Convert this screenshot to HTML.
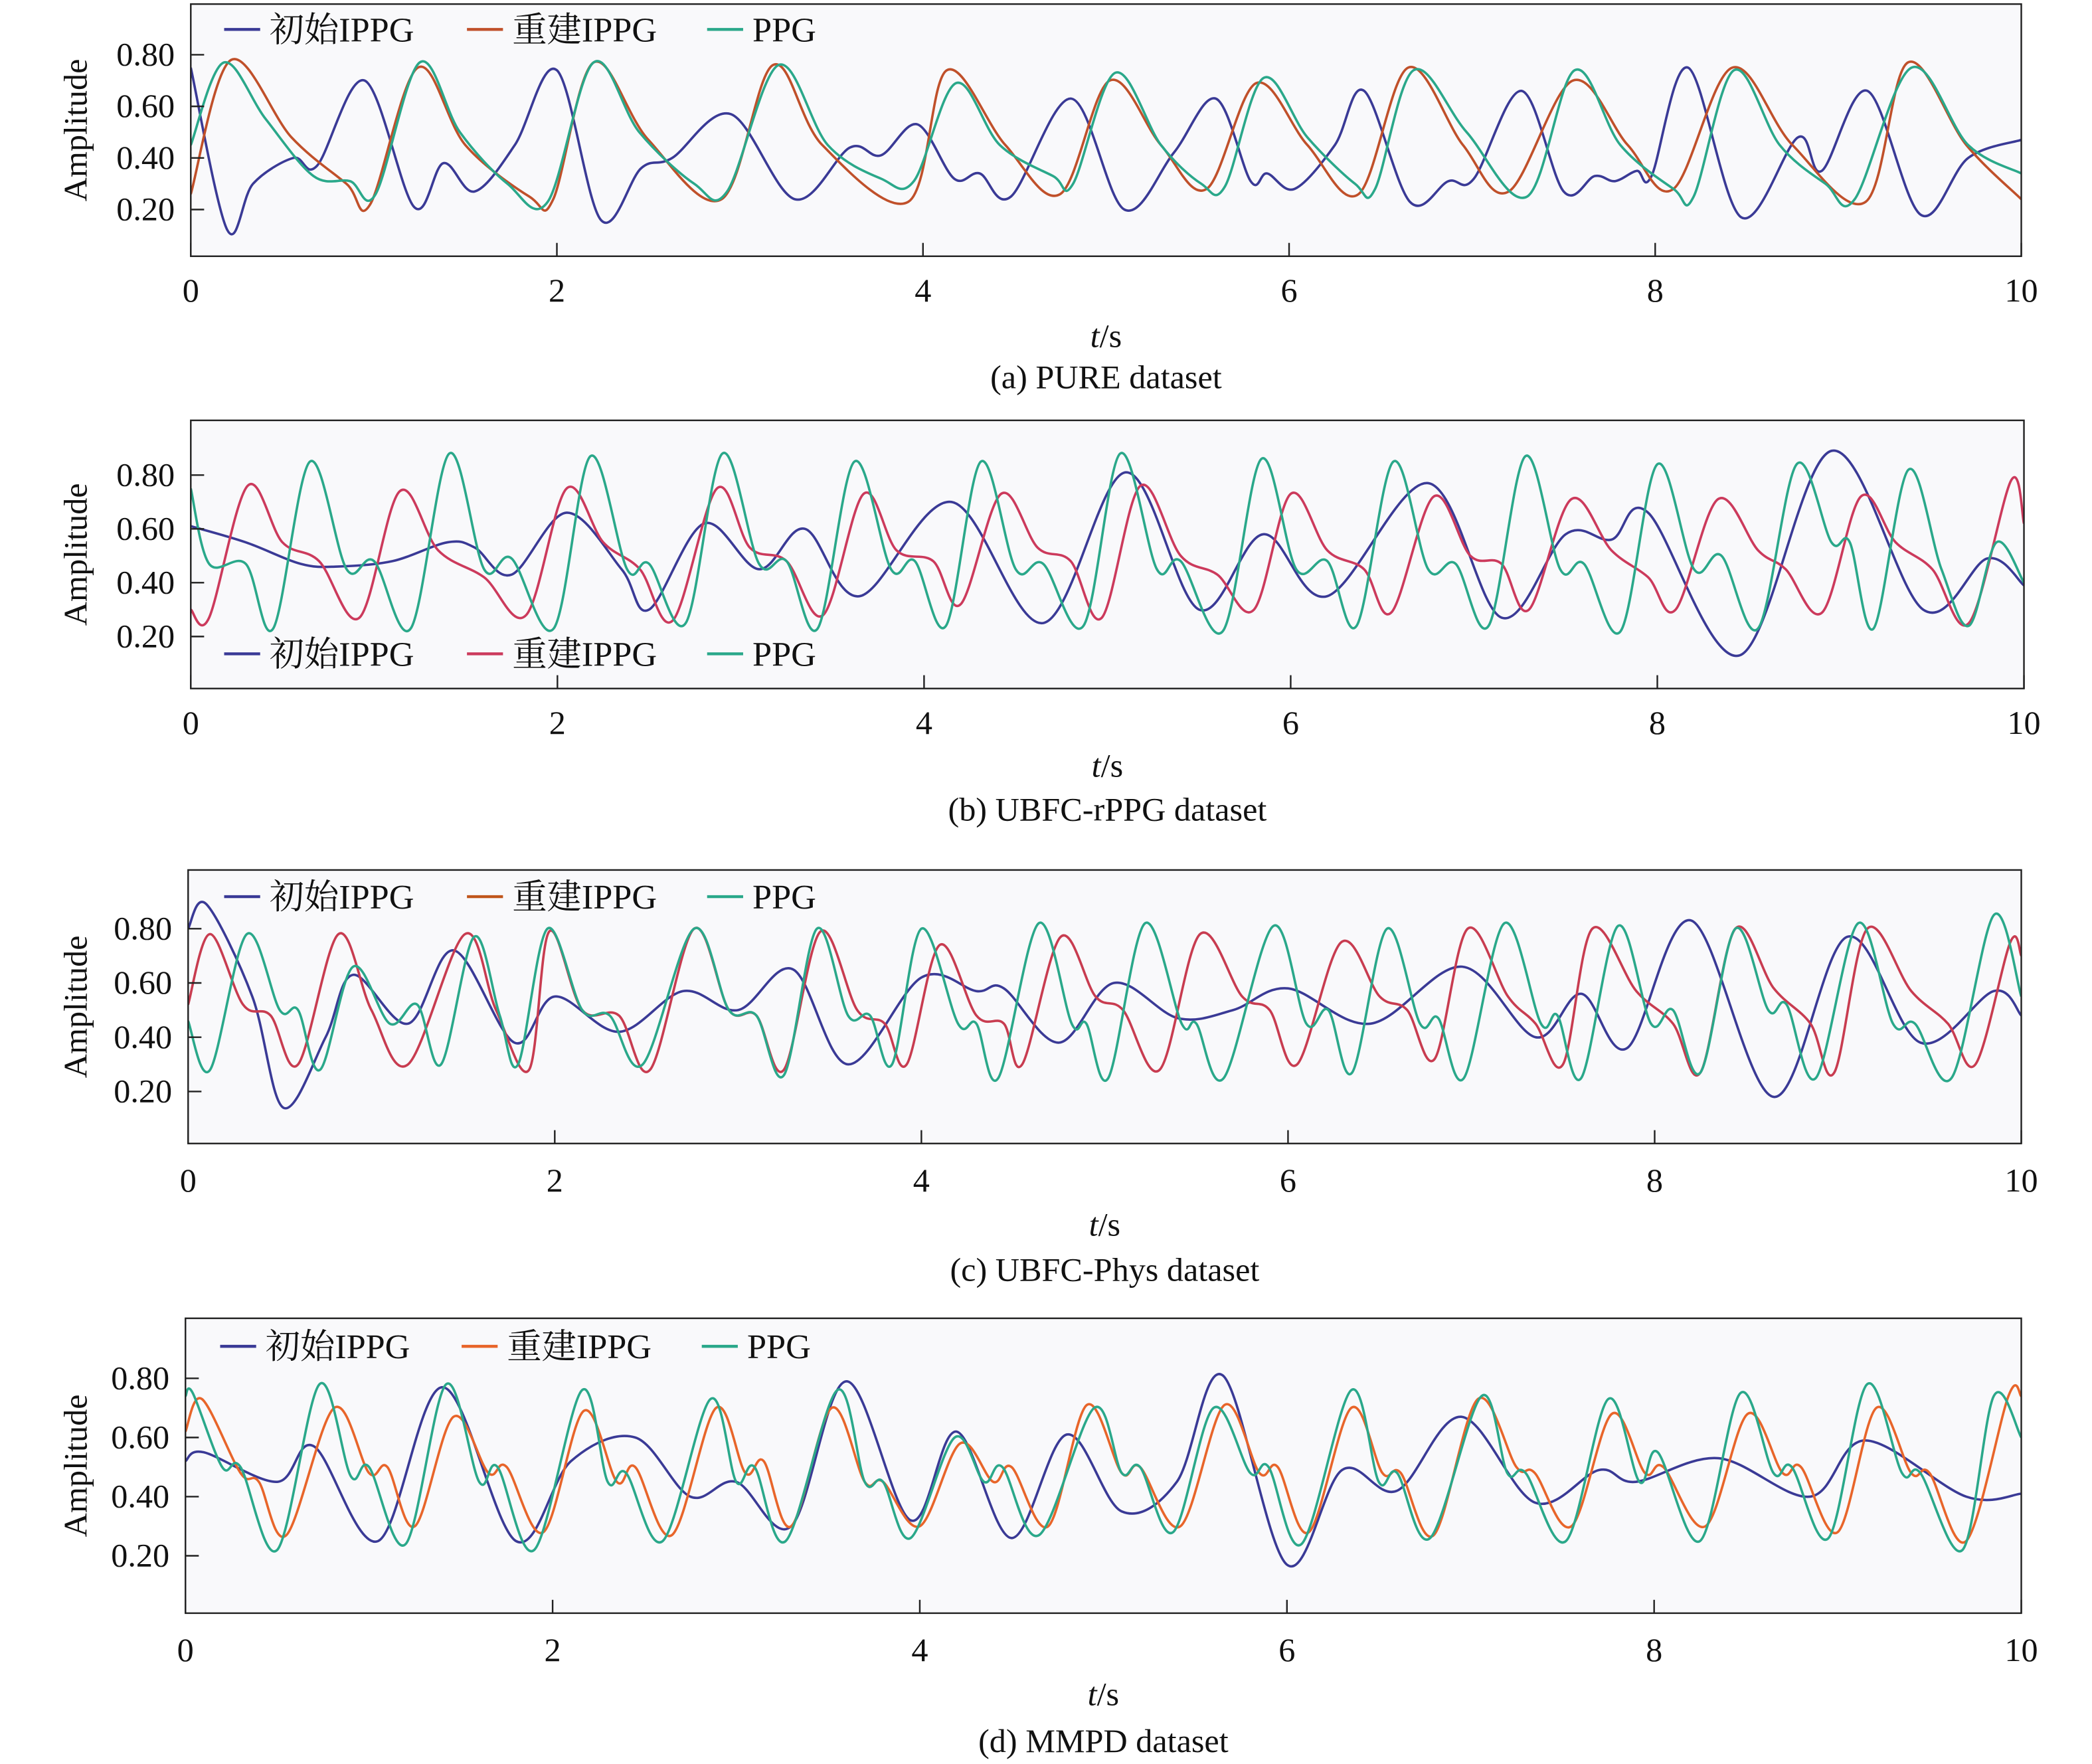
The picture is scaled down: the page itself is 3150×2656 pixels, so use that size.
<!DOCTYPE html>
<html><head><meta charset="utf-8"><style>
html,body{margin:0;padding:0;background:#fff}
svg{display:block}
text{font-family:"Liberation Serif","Noto Serif CJK SC",serif;fill:#111}
</style></head><body>
<svg id="chart" width="3150" height="2656" viewBox="0 0 1568 1322" xmlns="http://www.w3.org/2000/svg"></svg>
<script>
// ---------- Panel (a) PURE ----------
const aBlueT=[0,0.2,0.34,0.56,0.69,0.95,1.22,1.38,1.55,1.77,2.0,2.24,2.46,2.63,2.95,3.3,3.6,3.77,3.97,4.17,4.31,4.48,4.81,5.1,5.37,5.6,5.79,5.88,6.03,6.25,6.41,6.66,6.87,7.01,7.27,7.5,7.67,7.78,7.9,7.98,8.18,8.47,8.78,8.91,9.16,9.45,9.71,10];
const aBlueV=[0.75,0.12,0.30,0.40,0.37,0.70,0.21,0.38,0.27,0.45,0.74,0.16,0.36,0.40,0.57,0.24,0.44,0.41,0.53,0.32,0.34,0.25,0.63,0.20,0.42,0.63,0.31,0.34,0.28,0.45,0.66,0.23,0.31,0.32,0.66,0.27,0.33,0.31,0.35,0.33,0.75,0.17,0.48,0.35,0.66,0.18,0.40,0.47];
const aRecT=[0,0.22,0.55,0.85,0.98,1.24,1.5,1.85,1.98,2.2,2.5,2.9,3.18,3.45,3.92,4.13,4.45,4.75,5.02,5.3,5.55,5.82,6.1,6.38,6.65,6.95,7.2,7.55,7.85,8.1,8.42,8.75,9.15,9.38,9.7,10];
const aRecV=[0.26,0.78,0.48,0.30,0.22,0.75,0.45,0.25,0.24,0.77,0.47,0.24,0.76,0.45,0.23,0.74,0.45,0.26,0.70,0.45,0.28,0.69,0.45,0.26,0.75,0.45,0.27,0.70,0.45,0.28,0.75,0.45,0.23,0.77,0.45,0.24];
const aPpgT=[0,0.18,0.41,0.67,0.87,1.01,1.25,1.47,1.73,1.95,2.2,2.45,2.75,2.93,3.21,3.48,3.77,3.95,4.18,4.42,4.71,4.82,5.05,5.3,5.52,5.65,5.86,6.1,6.36,6.47,6.68,6.97,7.3,7.56,7.81,8.1,8.21,8.43,8.68,8.93,9.09,9.4,9.71,10];
const aPpgV=[0.45,0.77,0.55,0.33,0.31,0.26,0.77,0.50,0.30,0.23,0.77,0.50,0.30,0.27,0.76,0.45,0.32,0.31,0.69,0.45,0.33,0.30,0.73,0.45,0.30,0.29,0.71,0.48,0.30,0.28,0.74,0.50,0.25,0.74,0.45,0.28,0.25,0.74,0.45,0.30,0.24,0.75,0.45,0.34];
// ---------- Panel (b) UBFC-rPPG ----------
const bBlueT=[0,0.3,0.6,0.8,1.1,1.4,1.55,1.75,2.05,2.35,2.5,2.8,3.1,3.35,3.65,4.15,4.65,5.1,5.5,5.85,6.2,6.75,7.15,7.5,7.75,7.95,8.45,8.95,9.45,9.8,10];
const bBlueV=[0.61,0.55,0.47,0.46,0.48,0.55,0.53,0.43,0.66,0.45,0.30,0.62,0.45,0.60,0.35,0.70,0.25,0.81,0.30,0.58,0.35,0.77,0.27,0.58,0.56,0.66,0.13,0.89,0.30,0.49,0.39];
const bRecT=[0,0.1,0.31,0.5,0.7,0.92,1.14,1.35,1.6,1.83,2.05,2.25,2.45,2.63,2.87,3.05,3.25,3.45,3.67,3.85,4.05,4.2,4.42,4.62,4.8,4.97,5.18,5.4,5.6,5.8,6.0,6.2,6.4,6.55,6.78,6.98,7.15,7.3,7.53,7.75,7.95,8.1,8.33,8.55,8.7,8.9,9.11,9.3,9.5,9.7,9.93,10];
const bRecV=[0.30,0.27,0.76,0.55,0.48,0.27,0.74,0.52,0.42,0.28,0.75,0.55,0.45,0.26,0.75,0.53,0.48,0.28,0.73,0.52,0.48,0.32,0.73,0.53,0.48,0.27,0.76,0.50,0.43,0.30,0.73,0.52,0.45,0.29,0.72,0.50,0.47,0.30,0.71,0.52,0.42,0.30,0.71,0.52,0.45,0.29,0.72,0.55,0.45,0.25,0.78,0.62];
const bPpgT=[0,0.1,0.3,0.45,0.65,0.85,1.0,1.2,1.41,1.6,1.75,1.98,2.18,2.38,2.5,2.7,2.9,3.1,3.25,3.42,3.62,3.82,3.95,4.12,4.31,4.5,4.65,4.87,5.07,5.27,5.4,5.63,5.84,6.03,6.2,6.36,6.56,6.75,6.9,7.08,7.28,7.47,7.6,7.8,8.0,8.2,8.35,8.55,8.76,8.95,9.05,9.18,9.37,9.55,9.7,9.85,10];
const bPpgV=[0.75,0.47,0.47,0.23,0.85,0.45,0.48,0.23,0.88,0.45,0.49,0.23,0.87,0.45,0.47,0.25,0.88,0.47,0.48,0.23,0.85,0.45,0.48,0.24,0.85,0.45,0.47,0.24,0.88,0.45,0.48,0.22,0.86,0.45,0.48,0.24,0.85,0.45,0.47,0.24,0.87,0.45,0.47,0.22,0.84,0.45,0.50,0.23,0.84,0.55,0.55,0.23,0.82,0.45,0.24,0.55,0.40];
// ---------- Panel (c) UBFC-Phys ----------
const cBlueT=[0,0.1,0.35,0.52,0.75,0.9,1.2,1.45,1.78,2.0,2.35,2.7,3.0,3.3,3.6,4.0,4.3,4.45,4.75,5.05,5.4,5.7,6.0,6.45,6.95,7.35,7.6,7.85,8.2,8.65,9.05,9.45,9.85,10];
const cBlueV=[0.80,0.89,0.55,0.14,0.40,0.63,0.45,0.72,0.38,0.55,0.42,0.57,0.50,0.65,0.30,0.62,0.57,0.58,0.38,0.60,0.47,0.50,0.58,0.45,0.66,0.40,0.56,0.36,0.83,0.18,0.77,0.38,0.57,0.48];
const cRecT=[0,0.12,0.3,0.45,0.6,0.82,1.0,1.2,1.51,1.68,1.86,1.97,2.15,2.35,2.52,2.76,2.95,3.1,3.25,3.45,3.65,3.8,3.92,4.1,4.3,4.45,4.55,4.76,4.95,5.1,5.3,5.52,5.75,5.9,6.05,6.29,6.5,6.65,6.8,6.98,7.2,7.35,7.5,7.66,7.9,8.1,8.25,8.44,8.65,8.85,8.98,9.16,9.4,9.6,9.75,9.94,10];
const cRecV=[0.52,0.78,0.52,0.48,0.30,0.78,0.50,0.30,0.78,0.50,0.28,0.79,0.50,0.48,0.28,0.80,0.50,0.48,0.28,0.79,0.50,0.45,0.30,0.74,0.48,0.45,0.30,0.77,0.55,0.50,0.28,0.78,0.55,0.50,0.30,0.75,0.55,0.50,0.32,0.80,0.55,0.45,0.30,0.80,0.57,0.45,0.27,0.80,0.58,0.45,0.27,0.80,0.57,0.45,0.30,0.75,0.70];
const cPpgT=[0,0.12,0.32,0.5,0.6,0.72,0.9,1.1,1.25,1.38,1.56,1.7,1.8,1.96,2.15,2.3,2.48,2.76,2.95,3.1,3.25,3.43,3.6,3.72,3.84,4.0,4.2,4.3,4.42,4.64,4.82,4.9,5.02,5.22,5.42,5.5,5.65,5.92,6.1,6.22,6.35,6.54,6.72,6.82,6.96,7.18,7.38,7.47,7.6,7.8,7.98,8.1,8.25,8.44,8.62,8.72,8.88,9.11,9.3,9.42,9.62,9.85,10];
const cPpgV=[0.46,0.28,0.78,0.50,0.50,0.28,0.66,0.45,0.52,0.30,0.77,0.48,0.30,0.80,0.50,0.48,0.30,0.80,0.50,0.48,0.26,0.80,0.48,0.48,0.30,0.80,0.45,0.45,0.25,0.82,0.45,0.45,0.25,0.82,0.45,0.45,0.25,0.81,0.45,0.50,0.27,0.80,0.45,0.47,0.25,0.82,0.45,0.48,0.25,0.81,0.45,0.50,0.27,0.80,0.50,0.52,0.25,0.82,0.45,0.45,0.25,0.85,0.55];
// ---------- Panel (d) MMPD ----------
const dBlueT=[0,0.1,0.5,0.7,1.05,1.4,1.8,2.1,2.45,2.75,3.0,3.3,3.6,3.95,4.2,4.5,4.8,5.1,5.4,5.65,6.0,6.3,6.6,6.95,7.35,7.7,7.9,8.35,8.85,9.15,9.7,10];
const dBlueV=[0.52,0.55,0.45,0.57,0.25,0.77,0.25,0.52,0.60,0.40,0.45,0.30,0.79,0.32,0.62,0.26,0.61,0.35,0.45,0.81,0.17,0.49,0.42,0.67,0.38,0.49,0.45,0.53,0.40,0.59,0.40,0.41];
const dRecT=[0,0.09,0.3,0.4,0.55,0.81,1.0,1.1,1.25,1.46,1.65,1.75,1.95,2.17,2.35,2.45,2.65,2.89,3.05,3.15,3.3,3.52,3.7,3.8,4.0,4.22,4.4,4.5,4.7,4.91,5.1,5.2,5.42,5.66,5.85,5.95,6.12,6.35,6.52,6.62,6.8,7.04,7.25,7.35,7.55,7.77,7.95,8.05,8.28,8.51,8.7,8.8,9.0,9.21,9.4,9.5,9.7,9.93,10];
const dRecV=[0.62,0.73,0.48,0.45,0.27,0.70,0.48,0.50,0.30,0.67,0.48,0.50,0.28,0.69,0.45,0.50,0.27,0.70,0.48,0.52,0.30,0.70,0.45,0.45,0.30,0.58,0.45,0.50,0.30,0.71,0.48,0.50,0.30,0.71,0.48,0.50,0.28,0.70,0.48,0.48,0.27,0.73,0.50,0.48,0.30,0.68,0.48,0.50,0.30,0.68,0.48,0.50,0.28,0.70,0.48,0.48,0.25,0.74,0.74];
const dPpgT=[0,0.04,0.2,0.3,0.5,0.73,0.9,1.0,1.2,1.42,1.6,1.7,1.9,2.16,2.3,2.4,2.6,2.86,3.0,3.1,3.27,3.55,3.7,3.8,3.95,4.19,4.35,4.45,4.65,4.95,5.1,5.2,5.38,5.6,5.8,5.9,6.08,6.35,6.5,6.6,6.78,7.06,7.2,7.3,7.52,7.75,7.92,8.02,8.25,8.47,8.65,8.75,8.95,9.16,9.35,9.45,9.68,9.85,10];
const dPpgV=[0.74,0.75,0.50,0.50,0.22,0.78,0.47,0.50,0.24,0.78,0.45,0.50,0.22,0.76,0.45,0.48,0.25,0.73,0.45,0.50,0.25,0.76,0.45,0.45,0.26,0.60,0.45,0.50,0.27,0.70,0.48,0.50,0.28,0.70,0.48,0.50,0.24,0.76,0.45,0.48,0.26,0.74,0.48,0.48,0.25,0.73,0.45,0.55,0.25,0.75,0.48,0.50,0.26,0.78,0.48,0.48,0.22,0.74,0.60];

const xTicks=[0,2,4,6,8,10];
const yTicks=[0.20,0.40,0.60,0.80];
const seriesNames=["初始IPPG","重建IPPG","PPG"];

const NS="http://www.w3.org/2000/svg";
const svg=document.getElementById('chart');
function mk(tag,attrs,parent){const e=document.createElementNS(NS,tag);for(const k in attrs)e.setAttribute(k,attrs[k]);(parent||svg).appendChild(e);return e;}

const panels=[
 {id:'a',box:[143,3,1515,192],y80:41,y20:157,xl:217,ts:251,cap:282,caption:"(a) PURE dataset",legY:22,legX:[168,350,530],
  colors:["#3a3a96","#c0502a","#2aa88a"],data:[[aBlueT,aBlueV],[aRecT,aRecV],[aPpgT,aPpgV]]},
 {id:'b',box:[143,315,1517,516],y80:356,y20:477,xl:541,ts:573,cap:606,caption:"(b) UBFC-rPPG dataset",legY:490,legX:[168,350,530],
  colors:["#3a3a96","#cc3a5c","#2aa88a"],data:[[bBlueT,bBlueV],[bRecT,bRecV],[bPpgT,bPpgV]]},
 {id:'c',box:[141,652,1515,857],y80:696,y20:818,xl:884,ts:917,cap:951,caption:"(c) UBFC-Phys dataset",legY:672,legX:[168,350,530],
  colors:["#3a3a96","#c83c50","#2aa88a"],legColors:["#3a3a96","#c0561c","#2aa88a"],data:[[cBlueT,cBlueV],[cRecT,cRecV],[cPpgT,cPpgV]]},
 {id:'d',box:[139,988,1515,1209],y80:1033,y20:1166,xl:1236,ts:1269,cap:1304,caption:"(d) MMPD dataset",legY:1009,legX:[165,346,526],
  colors:["#3a3a96","#e8652a","#2aa88a"],data:[[dBlueT,dBlueV],[dRecT,dRecV],[dPpgT,dPpgV]]}
];

function catmull(pts){
  let d="M"+pts[0][0].toFixed(2)+","+pts[0][1].toFixed(2);
  for(let i=0;i<pts.length-1;i++){
    const p0=pts[i-1]||pts[i],p1=pts[i],p2=pts[i+1],p3=pts[i+2]||p2;
    const c1x=p1[0]+(p2[0]-p0[0])/6,c1y=p1[1]+(p2[1]-p0[1])/6;
    const c2x=p2[0]-(p3[0]-p1[0])/6,c2y=p2[1]-(p3[1]-p1[1])/6;
    d+=" C"+c1x.toFixed(2)+","+c1y.toFixed(2)+" "+c2x.toFixed(2)+","+c2y.toFixed(2)+" "+p2[0].toFixed(2)+","+p2[1].toFixed(2);
  }
  return d;
}

const defs=mk('defs',{});
panels.forEach(p=>{
  const [x0,y0,x1,y1]=p.box;
  const xs=t=>x0+(t/10)*(x1-x0);
  const ys=v=>p.y20+(v-0.2)/0.6*(p.y80-p.y20);
  const g=mk('g',{});
  
  
  const cp=mk('clipPath',{id:'clip-'+p.id},defs);
  mk('rect',{x:x0,y:y0,width:x1-x0,height:y1-y0},cp);
  const bg=mk('rect',{x:x0,y:y0,width:x1-x0,height:y1-y0,fill:"#f9f9fb",stroke:"none"},g);
  
  
  const sg=mk('g',{'clip-path':'url(#clip-'+p.id+')'},g);
  p.data.forEach((s,i)=>{
    const n=Math.min(s[0].length,s[1].length);
    const pts=[];for(let k=0;k<n;k++)pts.push([xs(s[0][k]),ys(s[1][k])]);
    const path=mk('path',{d:catmull(pts),fill:'none',stroke:p.colors[i],'stroke-width':1.8,'stroke-linejoin':'round'},sg);
    
    
  });
  mk('rect',{x:x0,y:y0,width:x1-x0,height:y1-y0,fill:'none',stroke:'#222','stroke-width':1.2},g);
  yTicks.forEach(v=>{
    const y=ys(v);
    mk('line',{x1:x0,x2:x0+10,y1:y,y2:y,stroke:'#222','stroke-width':1.2},g);
    const t=mk('text',{x:x0-12,y:y+8,'text-anchor':'end','font-size':25},g);
    t.textContent=v.toFixed(2);
    
    
  });
  xTicks.forEach(v=>{
    const x=xs(v);
    mk('line',{x1:x,x2:x,y1:y1,y2:y1-10,stroke:'#222','stroke-width':1.2},g);
    const t=mk('text',{x:x,y:p.xl+9,'text-anchor':'middle','font-size':25},g);
    t.textContent=String(v);
    
    
  });
  const yc=(y0+y1)/2;
  const yt=mk('text',{x:0,y:0,'text-anchor':'middle','font-size':25,transform:'translate(65,'+yc+') rotate(-90)'},g);
  yt.textContent="Amplitude";
  
  
  const xt=mk('text',{x:(x0+x1)/2,y:p.ts+9,'text-anchor':'middle','font-size':25},g);
  const ti=mk('tspan',{'font-style':'italic'},xt);ti.textContent="t";
  const ts=mk('tspan',{},xt);ts.textContent="/s";
  
  
  const cap=mk('text',{x:(x0+x1)/2,y:p.cap+9,'text-anchor':'middle','font-size':25},g);
  cap.textContent=p.caption;
  
  
  const lc=p.legColors||p.colors;
  seriesNames.forEach((nm,i)=>{
    const lg=mk('g',{},g);
    
    
    const lx=p.legX[i];
    mk('line',{x1:lx,x2:lx+27,y1:p.legY,y2:p.legY,stroke:lc[i],'stroke-width':2.2},lg);
    const lt=mk('text',{x:lx+34,y:p.legY+9,'font-size':26},lg);
    lt.textContent=nm;
  });
});
</script>
</body></html>
